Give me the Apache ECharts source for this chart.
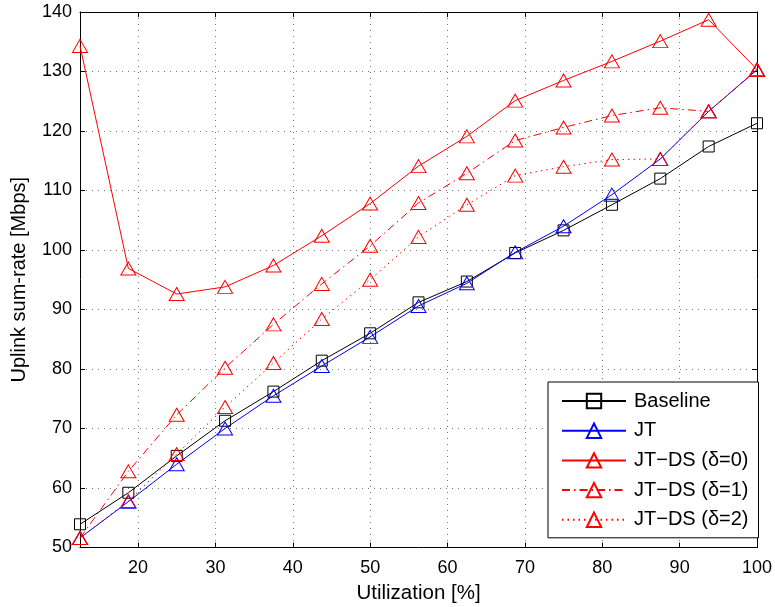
<!DOCTYPE html>
<html>
<head>
<meta charset="utf-8">
<script src="https://cdn.jsdelivr.net/npm/echarts@6/dist/echarts.min.js"></script>
<style>
html,body{margin:0;padding:0;background:#fff;}
#chart{width:775px;height:607px;}
</style>
</head>
<body>
<div id="chart"></div>
<script>
const utilization = [12.5, 18.75, 25, 31.25, 37.5, 43.75, 50, 56.25, 62.5, 68.75, 75, 81.25, 87.5, 93.75, 100];
const baseline = [53.9, 59.2, 65.4, 71.3, 76.2, 81.4, 86.0, 91.2, 94.7, 99.5, 103.3, 107.6, 112.0, 117.4, 121.3];
const jt = [51.6, 57.7, 64.0, 70.0, 75.5, 80.5, 85.4, 90.6, 94.4, 99.6, 104.0, 109.3, 115.3, 123.3, 130.3];
const jtds0 = [134.3, 96.9, 92.6, 93.8, 97.4, 102.4, 107.8, 114.1, 119.1, 125.1, 128.5, 131.7, 135.1, 138.7, 130.35];
const jtds1 = [51.6, 62.8, 72.3, 80.2, 87.5, 94.3, 100.7, 107.9, 112.9, 118.4, 120.6, 122.6, 123.9, 123.3, 130.3];
const jtds2 = [51.6, 57.8, 65.7, 73.6, 81.0, 88.4, 95.0, 102.2, 107.6, 112.5, 114.0, 115.2, 115.3, 123.3, 130.3];
const xTicks = [20, 30, 40, 50, 60, 70, 80, 90, 100];
const seriesNames = ['Baseline', 'JT', 'JT\u2212DS (\u03b4=0)', 'JT\u2212DS (\u03b4=1)', 'JT\u2212DS (\u03b4=2)'];

const FONT = "'Liberation Sans', Arial, Helvetica, sans-serif";
const pair = arr => utilization.map((u, i) => [u, arr[i]]);

const chart = echarts.init(document.getElementById('chart'), null, {renderer: 'canvas'});

function mkSeries(name, data, color, symbol, size, lineType) {
  return {
    name: name,
    type: 'line',
    data: pair(data),
    symbol: symbol,
    symbolSize: size,
    showAllSymbol: true,
    clip: false,
    lineStyle: {color: color, width: 1, type: lineType},
    itemStyle: {color: 'rgba(255,255,255,0)', borderColor: color, borderWidth: 1},
    emphasis: {disabled: true},
    animation: false
  };
}

const gridLine = {show: true, lineStyle: {color: '#777', width: 1, type: [1, 5]}};

const option = {
  animation: false,
  backgroundColor: '#fff',
  grid: {left: 80, right: 18, top: 12, bottom: 59.5, containLabel: false, outerBoundsMode: 'none'},
  xAxis: [{
    type: 'value', min: 12.5, max: 100, position: 'bottom',
    name: 'Utilization [%]', nameLocation: 'middle', nameGap: 32,
    nameTextStyle: {fontFamily: FONT, fontSize: 20.5, color: '#000'},
    axisLine: {show: true, onZero: false, lineStyle: {color: '#000', width: 1}},
    axisTick: {show: true, inside: true, length: 5, customValues: xTicks, lineStyle: {color: '#000'}},
    axisLabel: {show: true, customValues: xTicks, fontFamily: FONT, fontSize: 18, color: '#000', margin: 12},
    splitLine: gridLine
  }, {
    type: 'value', min: 12.5, max: 100, position: 'top',
    axisLine: {show: true, onZero: false, lineStyle: {color: '#000', width: 1}},
    axisTick: {show: true, inside: true, length: 5, customValues: xTicks, lineStyle: {color: '#000'}},
    axisLabel: {show: false, customValues: xTicks},
    splitLine: {show: false}
  }],
  yAxis: [{
    type: 'value', min: 50, max: 140, interval: 10, position: 'left',
    name: 'Uplink sum-rate [Mbps]', nameLocation: 'middle', nameGap: 51,
    nameTextStyle: {fontFamily: FONT, fontSize: 20, color: '#000'},
    axisLine: {show: true, onZero: false, lineStyle: {color: '#000', width: 1}},
    axisTick: {show: true, inside: true, length: 5, lineStyle: {color: '#000'}},
    axisLabel: {fontFamily: FONT, fontSize: 18, color: '#000', margin: 8},
    splitLine: gridLine
  }, {
    type: 'value', min: 50, max: 140, interval: 10, position: 'right',
    axisLine: {show: true, onZero: false, lineStyle: {color: '#000', width: 1}},
    axisTick: {show: true, inside: true, length: 5, lineStyle: {color: '#000'}},
    axisLabel: {show: false},
    splitLine: {show: false}
  }],
  legend: {
    show: true,
    left: 548, top: 382,
    orient: 'vertical',
    backgroundColor: '#fff',
    borderColor: '#000', borderWidth: 1, borderRadius: 0,
    padding: [8, 10, 7, 13],
    itemWidth: 64, itemHeight: 18, itemGap: 7.7,
    textStyle: {fontFamily: FONT, fontSize: 20, color: '#000', lineHeight: 22, padding: [0, 0, 0, 3]},
    data: seriesNames,
    selectedMode: false
  },
  series: [
    mkSeries(seriesNames[0], baseline, '#000000', 'rect', 11, 'solid'),
    mkSeries(seriesNames[1], jt, '#0000ff', 'triangle', [15, 13], 'solid'),
    mkSeries(seriesNames[2], jtds0, '#ff0000', 'triangle', [15, 13], 'solid'),
    mkSeries(seriesNames[3], jtds1, '#ff0000', 'triangle', [15, 13], [8, 4, 1.5, 4]),
    mkSeries(seriesNames[4], jtds2, '#ff0000', 'triangle', [15, 13], [1.5, 4])
  ]
};
chart.setOption(option);
</script>
</body>
</html>
